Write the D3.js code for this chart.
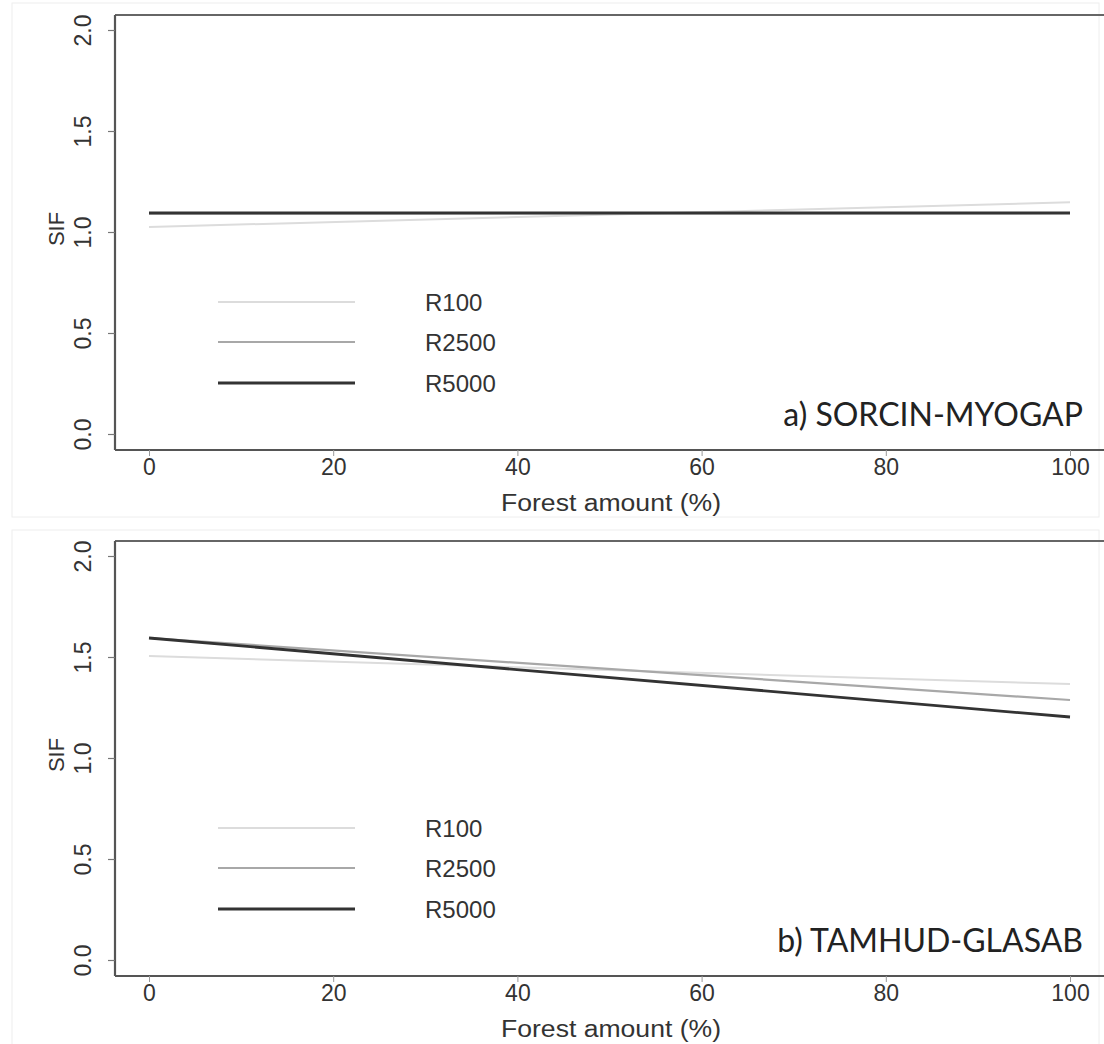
<!DOCTYPE html>
<html><head><meta charset="utf-8">
<script src="https://cdn.jsdelivr.net/npm/d3@7"></script>
<style>
body{margin:0;background:#fff;}
svg{display:block;}
</style></head>
<body>
<svg id="c" width="1104" height="1044"></svg>
<script>
const xTicks = [0, 20, 40, 60, 80, 100];
const yTicks = [0, 0.5, 1.0, 1.5, 2.0];
const seriesNames = ["R100", "R2500", "R5000"];
const seriesColors = ["#dcdcdc", "#a8a8a8", "#333333"];
const seriesWidths = [2, 2.2, 2.8];
const forestX = [0, 100];
// Panel a) SORCIN-MYOGAP
const panelA_R100 = [1.025, 1.147];
const panelA_R2500 = [1.092, 1.094];
const panelA_R5000 = [1.094, 1.094];
// Panel b) TAMHUD-GLASAB
const panelB_R100 = [1.505, 1.366];
const panelB_R2500 = [1.594, 1.287];
const panelB_R5000 = [1.594, 1.203];
const panelTitles = ["a) SORCIN-MYOGAP", "b) TAMHUD-GLASAB"];
const xTitle = "Forest amount (%)";
const yTitle = "SIF";

const panels = [
  {title: panelTitles[0], series: [panelA_R100, panelA_R2500, panelA_R5000], off: 0},
  {title: panelTitles[1], series: [panelB_R100, panelB_R2500, panelB_R5000], off: 526}
];

const FONT = "Liberation Sans, Arial, sans-serif";
const svg = d3.select("#c");
const x = d3.scaleLinear().domain([0, 100]).range([149, 1070]);

// faint screenshot borders
svg.append("rect").attr("x", 12).attr("y", 3).attr("width", 1087).attr("height", 514)
  .attr("fill", "none").attr("stroke", "#eeeeee").attr("stroke-width", 1);
svg.append("rect").attr("x", 12).attr("y", 530).attr("width", 1087).attr("height", 520)
  .attr("fill", "none").attr("stroke", "#eeeeee").attr("stroke-width", 1);

panels.forEach(p => {
  const o = p.off;
  const g = svg.append("g");
  const y = d3.scaleLinear().domain([0, 2]).range([434 + o, 30 + o]);
  const top = 15 + o, bottom = 450 + o, left = 115;

  // frame top line
  g.append("line").attr("x1", left).attr("x2", 1104).attr("y1", top).attr("y2", top)
    .attr("stroke", "#666").attr("stroke-width", 1.8);

  // y axis
  const ya = g.append("g").attr("transform", `translate(${left},0)`)
    .call(d3.axisLeft(y).tickValues(yTicks).tickFormat(d3.format(".1f")).tickSize(7).tickSizeOuter(0));
  ya.select(".domain").attr("d", `M0,${top}V${bottom}`).attr("stroke", "#555").attr("stroke-width", 2.2);
  ya.selectAll(".tick line").attr("stroke", "#777").attr("stroke-width", 1.2);
  ya.selectAll(".tick text")
    .attr("x", 0).attr("dy", null)
    .attr("transform", "translate(-32,0) rotate(-90)")
    .attr("text-anchor", "middle").attr("dominant-baseline", "central")
    .attr("font-family", FONT).attr("font-size", 23).attr("fill", "#333");

  // x axis
  const xa = g.append("g").attr("transform", `translate(0,${bottom})`)
    .call(d3.axisBottom(x).tickValues(xTicks).tickFormat(d3.format("d")).tickSize(6).tickSizeOuter(0));
  xa.select(".domain").attr("d", `M${left},0H1104`).attr("stroke", "#555").attr("stroke-width", 2.2);
  xa.selectAll(".tick line").attr("stroke", "#999").attr("stroke-width", 1);
  xa.selectAll(".tick text").attr("y", 9).attr("dy", "0.71em")
    .attr("font-family", FONT).attr("font-size", 23).attr("fill", "#333");

  // axis titles
  g.append("text").attr("x", 611).attr("y", 503 + o).attr("text-anchor", "middle")
    .attr("dominant-baseline", "central")
    .attr("font-family", FONT).attr("font-size", 23).attr("fill", "#333")
    .attr("textLength", 220).attr("lengthAdjust", "spacingAndGlyphs")
    .text(xTitle);
  g.append("text").attr("transform", `translate(56,${229 + o}) rotate(-90)`).attr("text-anchor", "middle")
    .attr("dominant-baseline", "central")
    .attr("font-family", FONT).attr("font-size", 22).attr("fill", "#333")
    .text(yTitle);

  // lines
  const line = d3.line().x((d, i) => x(forestX[i])).y(d => y(d));
  p.series.forEach((s, i) => {
    g.append("path").datum(s).attr("d", line).attr("fill", "none")
      .attr("stroke", seriesColors[i]).attr("stroke-width", seriesWidths[i]);
  });

  // legend
  const legY = [302, 342, 383];
  seriesNames.forEach((n, i) => {
    g.append("line").attr("x1", 218).attr("x2", 355).attr("y1", legY[i] + o).attr("y2", legY[i] + o)
      .attr("stroke", seriesColors[i]).attr("stroke-width", seriesWidths[i]);
    g.append("text").attr("x", 425).attr("y", legY[i] + o).attr("dominant-baseline", "central")
      .attr("font-family", FONT).attr("font-size", 24).attr("fill", "#333")
      .text(n);
  });

  // panel title
  g.append("text").attr("x", 1083).attr("y", 413 + o).attr("text-anchor", "end")
    .attr("dominant-baseline", "central")
    .attr("font-family", "Lato, 'Open Sans', sans-serif").attr("font-size", 32).attr("fill", "#222")
    .text(p.title);
});
</script>
</body></html>
